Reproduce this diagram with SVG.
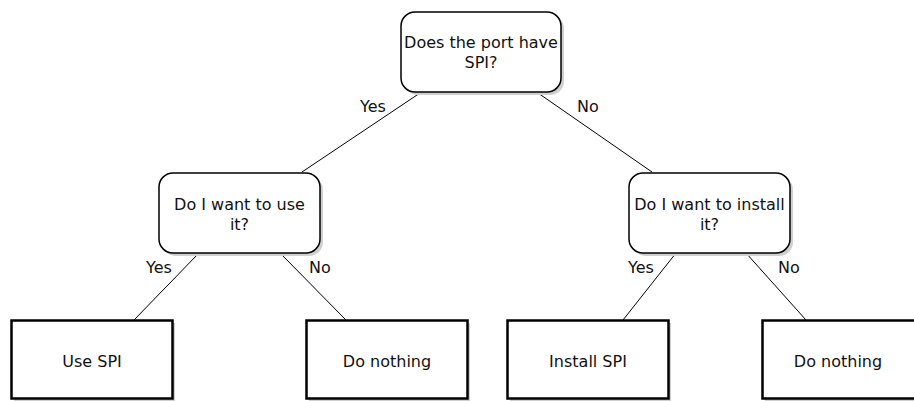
<svg xmlns="http://www.w3.org/2000/svg" width="914" height="401" viewBox="0 0 914 401">
  <style>
    .t { font-family: "DejaVu Sans", Verdana, sans-serif; font-size: 16px; fill: #111; text-anchor: middle; }
    .lbl { font-family: "DejaVu Sans", Verdana, sans-serif; font-size: 16px; fill: #111; }
    .q { fill: #fff; stroke: #000; stroke-width: 1.5; }
    .a { fill: #fff; stroke: #000; stroke-width: 2.5; }
    .sh { fill: #cfcfcf; }
    .edge { stroke: #000; stroke-width: 1; fill: none; }
  </style>
  <rect width="914" height="401" fill="#fff"/>

  <g id="connectors">
    <line class="edge" x1="420" y1="93" x2="302" y2="172"/>
    <line class="edge" x1="538" y1="93" x2="652" y2="172"/>
    <line class="edge" x1="199" y1="253" x2="134" y2="320"/>
    <line class="edge" x1="280" y1="253" x2="346" y2="320"/>
    <line class="edge" x1="676" y1="253" x2="623" y2="320"/>
    <line class="edge" x1="746" y1="253" x2="806" y2="320"/>
    <text class="lbl" x="360" y="112">Yes</text>
    <text class="lbl" x="577" y="112">No</text>
    <text class="lbl" x="146" y="273">Yes</text>
    <text class="lbl" x="309" y="273">No</text>
    <text class="lbl" x="628" y="273">Yes</text>
    <text class="lbl" x="778" y="273">No</text>
  </g>

  <g id="q-port-spi">
    <rect class="sh" x="404" y="15" width="160" height="80" rx="14"/>
    <rect class="q" x="401" y="12" width="160" height="80" rx="14"/>
    <text class="t" x="481" y="48">Does the port have</text>
    <text class="t" x="481" y="68">SPI?</text>
  </g>

  <g id="q-use-it">
    <rect class="sh" x="162" y="176" width="161" height="80" rx="14"/>
    <rect class="q" x="159" y="173" width="161" height="80" rx="14"/>
    <text class="t" x="239.5" y="210">Do I want to use</text>
    <text class="t" x="239.5" y="230">it?</text>
  </g>

  <g id="q-install-it">
    <rect class="sh" x="632" y="176" width="161" height="80" rx="14"/>
    <rect class="q" x="629" y="173" width="161" height="80" rx="14"/>
    <text class="t" x="709.5" y="210">Do I want to install</text>
    <text class="t" x="709.5" y="230">it?</text>
  </g>

  <g id="use-spi">
    <rect class="sh" x="14" y="323" width="161" height="79"/>
    <rect class="a" x="11.5" y="320.5" width="161" height="78"/>
    <text class="t" x="92" y="367">Use SPI</text>
  </g>

  <g id="do-nothing-1">
    <rect class="sh" x="309" y="323" width="161" height="79"/>
    <rect class="a" x="306.5" y="320.5" width="161" height="78"/>
    <text class="t" x="387" y="367">Do nothing</text>
  </g>

  <g id="install-spi">
    <rect class="sh" x="510" y="323" width="161" height="79"/>
    <rect class="a" x="507.5" y="320.5" width="161" height="78"/>
    <text class="t" x="588" y="367">Install SPI</text>
  </g>

  <g id="do-nothing-2">
    <rect class="sh" x="765" y="323" width="161" height="79"/>
    <rect class="a" x="762.5" y="320.5" width="161" height="78"/>
    <text class="t" x="838" y="367">Do nothing</text>
  </g>
</svg>
